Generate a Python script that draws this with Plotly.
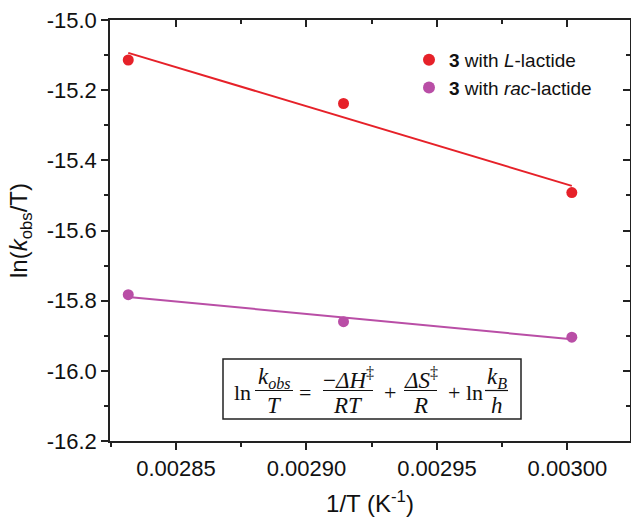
import numpy as np
import plotly.graph_objects as go

# ---- data ----
inv_T = [0.0028317, 0.0029142, 0.0030017]          # 1/T (K^-1)
ln_k_L = [-15.114, -15.238, -15.492]                # 3 with L-lactide
ln_k_rac = [-15.783, -15.860, -15.904]              # 3 with rac-lactide
x_ticks = [0.00285, 0.00290, 0.00295, 0.00300]
x_tick_labels = ["0.00285", "0.00290", "0.00295", "0.00300"]
y_ticks = [-15.0, -15.2, -15.4, -15.6, -15.8, -16.0, -16.2]
y_tick_labels = ["-15.0", "-15.2", "-15.4", "-15.6", "-15.8", "-16.0", "-16.2"]

RED = "#e62129"
PURPLE = "#b94ea6"
AX = "#222222"

W, H = 631, 517
ML, MR, MT, MB = 110, 1, 20, 76
PW, PH = W - ML - MR, H - MT - MB


def px(xp):
    return (xp - ML) / PW


def py(yp):
    return (H - MB - yp) / PH


fig = go.Figure()

xa = np.array(inv_T)
for yv, col in [(ln_k_L, RED), (ln_k_rac, PURPLE)]:
    m, c = np.polyfit(xa, np.array(yv), 1)
    xf = np.array([xa.min(), xa.max()])
    fig.add_trace(go.Scatter(x=xf, y=m * xf + c, mode="lines",
                             line=dict(color=col, width=2), showlegend=False,
                             hoverinfo="skip"))
for yv, col, name in [(ln_k_L, RED, "<b>3</b> with <i>L</i>-lactide"),
                      (ln_k_rac, PURPLE, "<b>3</b> with <i>rac</i>-lactide")]:
    fig.add_trace(go.Scatter(x=inv_T, y=yv, mode="markers", name=name,
                             marker=dict(color=col, size=11)))

# invisible trace to anchor mirrored (top/right) axes
fig.add_trace(go.Scatter(x=[], y=[], xaxis="x2", yaxis="y2", showlegend=False))

xrange = [0.0028247, 0.0030240]
yrange = [-16.2, -15.0]

fig.update_layout(
    width=W, height=H,
    margin=dict(l=ML, r=MR, t=MT, b=MB),
    paper_bgcolor="white", plot_bgcolor="white",
    font=dict(family="Liberation Sans, Arial, sans-serif", color="#111111"),
    showlegend=True,
    legend=dict(x=px(409), y=py(41), xanchor="left", yanchor="top",
                bgcolor="rgba(0,0,0,0)", font=dict(size=19, color="#111111"),
                itemsizing="constant", tracegroupgap=0),
    xaxis=dict(range=xrange, tickvals=x_ticks, ticktext=x_tick_labels,
               automargin=False,
               showgrid=False, zeroline=False, showline=True, linecolor=AX,
               linewidth=1.5, ticks="outside", ticklen=7, tickwidth=1.5,
               tickcolor=AX, tickfont=dict(size=22),
               minor=dict(dtick=0.000025, tick0=0.00285, ticks="outside",
                          ticklen=4, tickwidth=1.5, tickcolor=AX),
               title=dict(text="1/T (K<sup>-1</sup>)", font=dict(size=24),
                          standoff=17)),
    yaxis=dict(range=yrange, tickvals=y_ticks, ticktext=y_tick_labels,
               automargin=False,
               showgrid=False, zeroline=False, showline=True, linecolor=AX,
               linewidth=1.5, ticks="outside", ticklen=7, tickwidth=1.5,
               tickcolor=AX, tickfont=dict(size=22),
               minor=dict(dtick=0.1, tick0=-15.0, ticks="outside",
                          ticklen=4, tickwidth=1.5, tickcolor=AX),
               title=dict(text="ln(<i>k</i><sub>obs</sub>/T)", font=dict(size=24),
                          standoff=12)),
    xaxis2=dict(overlaying="x", side="top", range=xrange, tickvals=x_ticks,
                automargin=False,
                showticklabels=False, showgrid=False, zeroline=False,
                showline=True, linecolor=AX, linewidth=1.5, ticks="inside",
                ticklen=7, tickwidth=1.5, tickcolor=AX,
                minor=dict(dtick=0.000025, tick0=0.00285, ticks="inside",
                           ticklen=4, tickwidth=1.5, tickcolor=AX)),
    yaxis2=dict(overlaying="y", side="right", range=yrange, tickvals=y_ticks,
                automargin=False,
                showticklabels=False, showgrid=False, zeroline=False,
                showline=True, linecolor=AX, linewidth=1.5, ticks="inside",
                ticklen=7, tickwidth=1.5, tickcolor=AX,
                minor=dict(dtick=0.1, tick0=-15.0, ticks="inside",
                           ticklen=4, tickwidth=1.5, tickcolor=AX)),
)

# ---- equation box ----
EQF = dict(family="Liberation Serif, DejaVu Serif, serif", size=23, color="#111111")
EQF_S = dict(family="Liberation Serif, DejaVu Serif, serif", size=22, color="#111111")
shapes = [dict(type="rect", xref="paper", yref="paper",
               x0=px(223), x1=px(521), y0=py(419), y1=py(359),
               line=dict(color=AX, width=1.5), layer="above")]
annots = []


def txt(xc, yc, s, f=EQF_S):
    annots.append(dict(x=px(xc), y=py(yc), xref="paper", yref="paper", text=s,
                       showarrow=False, xanchor="center", yanchor="middle",
                       font=f))


def frac(x0, x1, num, den, bar_y=390.5):
    xc = (x0 + x1) / 2
    txt(xc, 378, num, EQF)
    txt(xc, 405, den, EQF)
    shapes.append(dict(type="line", xref="paper", yref="paper",
                       x0=px(x0), x1=px(x1), y0=py(bar_y), y1=py(bar_y),
                       line=dict(color="#111111", width=1.2)))


txt(242, 392, "ln")
frac(255, 293, "<i>k</i><sub><i>obs</i></sub>", "<i>T</i>")
txt(305, 392, "=")
frac(323, 373, "−<i>ΔH</i><sup>‡</sup>", "<i>RT</i>")
txt(390, 392, "+")
frac(404, 437, "<i>ΔS</i><sup>‡</sup>", "<i>R</i>")
txt(465, 392, "+ ln")
frac(485, 508, "<i>k</i><sub><i>B</i></sub>", "<i>h</i>")

fig.update_layout(shapes=shapes, annotations=annots)

fig.write_html("out.html", config={"displayModeBar": False},
               post_script="document.body.style.margin='0';document.body.style.padding='0';")
